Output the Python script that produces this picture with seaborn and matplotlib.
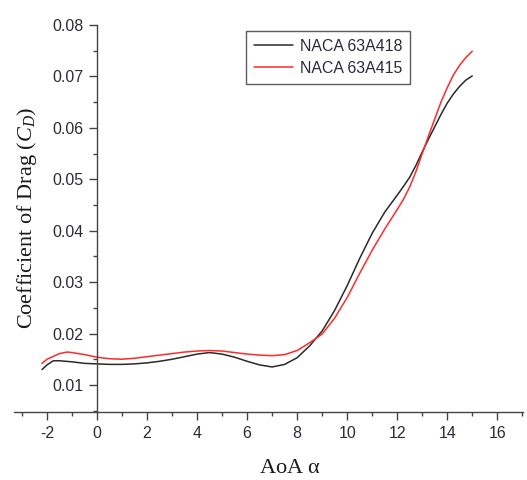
import numpy as np
import pandas as pd
import matplotlib
matplotlib.use("Agg")
import matplotlib.pyplot as plt
from matplotlib.ticker import MultipleLocator, FormatStrFormatter
import seaborn as sns

# Angle of attack (deg) and drag coefficient for each airfoil
aoa_418 = [-2.2, -2.0, -1.75, -1.5, -1.0, -0.5, 0.0, 0.5, 1.0, 1.5, 2.0, 2.5, 3.0, 3.5,
           4.0, 4.5, 5.0, 5.5, 6.0, 6.5, 7.0, 7.5, 8.0, 8.5, 9.0, 9.5, 10.0, 10.5,
           11.0, 11.5, 12.0, 12.25, 12.5, 12.75, 13.0, 13.25, 13.5, 13.75, 14.0,
           14.25, 14.5, 14.75, 15.0]
cd_418 = [0.0130, 0.0139, 0.0147, 0.0147, 0.0145, 0.0142, 0.0141, 0.0140, 0.0140, 0.0141,
          0.0143, 0.0146, 0.0150, 0.0155, 0.0160, 0.0163, 0.0160, 0.0154, 0.0146, 0.0139,
          0.0135, 0.0140, 0.0153, 0.0176, 0.0205, 0.0245, 0.0293, 0.0346, 0.0395, 0.0436,
          0.0469, 0.0486, 0.0504, 0.0527, 0.0553, 0.0578, 0.0602, 0.0626, 0.0648,
          0.0666, 0.0681, 0.0693, 0.0701]

aoa_415 = [-2.2, -2.0, -1.5, -1.2, -1.0, -0.5, 0.0, 0.5, 1.0, 1.5, 2.0, 2.5, 3.0, 3.5,
           4.0, 4.5, 5.0, 5.5, 6.0, 6.5, 7.0, 7.5, 8.0, 8.5, 9.0, 9.5, 10.0, 10.5,
           11.0, 11.5, 12.0, 12.25, 12.5, 12.75, 13.0, 13.25, 13.5, 13.75, 14.0,
           14.25, 14.5, 14.75, 15.0]
cd_415 = [0.0142, 0.0150, 0.0161, 0.0164, 0.0163, 0.0159, 0.0154, 0.0151, 0.0150, 0.0152,
          0.0155, 0.0158, 0.0161, 0.0164, 0.0166, 0.0167, 0.0166, 0.0163, 0.0160, 0.0158,
          0.0157, 0.0159, 0.0167, 0.0182, 0.0199, 0.0230, 0.0270, 0.0317, 0.0362, 0.0403,
          0.0441, 0.0461, 0.0485, 0.0515, 0.0550, 0.0584, 0.0617, 0.0650, 0.0678,
          0.0703, 0.0722, 0.0737, 0.0749]

series_names = ["NACA 63A418", "NACA 63A415"]
series_colors = ["#2a2a2a", "#ff2a2a"]

df = pd.concat([
    pd.DataFrame({"AoA": aoa_418, "Cd": cd_418, "Airfoil": series_names[0]}),
    pd.DataFrame({"AoA": aoa_415, "Cd": cd_415, "Airfoil": series_names[1]}),
])

sns.set_style("ticks")
plt.rcParams["font.family"] = ["Liberation Sans", "DejaVu Sans"]
plt.rcParams["axes.unicode_minus"] = False
plt.rcParams["mathtext.fontset"] = "custom"
plt.rcParams["mathtext.rm"] = "Liberation Serif"
plt.rcParams["mathtext.it"] = "Liberation Serif:italic"

fig = plt.figure(figsize=(5.27, 4.80), dpi=100)
ax = fig.add_axes([14 / 527, 1 - 411.7 / 480, 509 / 527, (411.7 - 25) / 480])

sns.lineplot(data=df, x="AoA", y="Cd", hue="Airfoil", hue_order=series_names,
             palette=series_colors, linewidth=1.1, sort=False, estimator=None, ax=ax)

ax.set_xlim(-3.32, 17.03)
ax.set_ylim(0.0048, 0.08)

# Y spine sits at AoA = 0
ax.spines["left"].set_position(("data", 0))
ax.spines["top"].set_visible(False)
ax.spines["right"].set_visible(False)
for s in ("left", "bottom"):
    ax.spines[s].set_linewidth(1.0)
    ax.spines[s].set_color("#444444")

ax.xaxis.set_minor_locator(MultipleLocator(1))
ax.yaxis.set_minor_locator(MultipleLocator(0.005))
ax.set_yticks([0.01, 0.02, 0.03, 0.04, 0.05, 0.06, 0.07, 0.08])
ax.yaxis.set_major_formatter(FormatStrFormatter("%.2f"))
ax.set_xticks([-2, 0, 2, 4, 6, 8, 10, 12, 14, 16])

ax.tick_params(which="major", length=6, width=1.0, color="#444444",
               labelsize=11.5, labelcolor="#2b2b3a", pad=4, direction="out")
ax.tick_params(which="minor", length=3, width=1.0, color="#444444", direction="out")

serif = ["Liberation Serif", "DejaVu Serif"]
ax.set_xlabel(r"AoA $\mathrm{\alpha}$", fontsize=16, family=serif, color="#1a1a1a",
              va="center")
ax.set_ylabel(r"Coefficient of Drag ($C_D$)", fontsize=16, family=serif, color="#1a1a1a",
              va="center")
ax.xaxis.set_label_coords(0.542, -0.146)
ax.yaxis.set_label_coords(0.0255, 0.50)

leg = ax.legend(loc="upper left", bbox_to_anchor=((245.7 - 14) / 509, (411.7 - 31) / 386.7),
                frameon=True, fancybox=False, shadow=False, fontsize=11.4,
                handlelength=2.5, handletextpad=0.4, borderpad=0.5, labelspacing=0.45,
                borderaxespad=0)
leg.get_frame().set_edgecolor("#333333")
leg.get_frame().set_linewidth(1.0)
for t in leg.get_texts():
    t.set_color("#2b2b3a")

fig.savefig("out.png", dpi=100)
